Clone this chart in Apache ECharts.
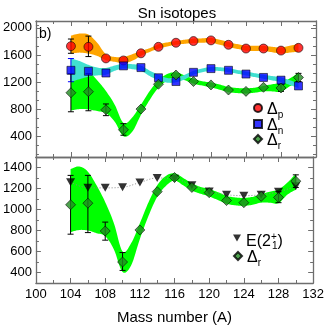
<!DOCTYPE html>
<html>
<head>
<meta charset="utf-8">
<script src="https://cdn.jsdelivr.net/npm/echarts@6/dist/echarts.min.js"></script>
<style>
  html, body { margin: 0; padding: 0; background: #fff; }
  #chart { width: 327px; height: 327px; }
</style>
</head>
<body>
<div id="chart"></div>
<script>
  // isotopes (mass number A)
  const massNumbers = [104, 106, 108, 110, 112, 114, 116, 118, 120, 122, 124, 126, 128, 130];
  const deltaP = [1730, 1720, 1550, 1520, 1625, 1720, 1780, 1805, 1815, 1750, 1695, 1695, 1665, 1705];
  const deltaN = [1375, 1360, 1335, 1440, 1415, 1265, 1210, 1345, 1400, 1375, 1320, 1270, 1230, 1145];
  const deltaR = [1045, 1060, 795, 500, 805, 1170, 1305, 1210, 1160, 1085, 1065, 1125, 1115, 1270];
  const e21 = [1260, 1207, 1206, 1212, 1257, 1300, 1294, 1230, 1171, 1141, 1132, 1141, 1169, 1221];

  // error bars [A, low, high]
  const deltaPErr = [[104, 1625, 1835], [106, 1577, 1878]];
  const deltaNErr = [[104, 1207, 1548]];
  const deltaRErr = [[104, 765, 1325], [106, 780, 1325], [108, 708, 880], [110, 420, 590], [128, 1065, 1170], [130, 1210, 1330]];

  // shaded bands at every A
  const bandA = [104, 105, 106, 107, 108, 109, 110, 111, 112, 113, 114, 115, 116, 117, 118, 119, 120, 121, 122, 123, 124, 125, 126, 127, 128, 129, 130];
  const orangeHi = [1885, 1915, 1900, 1780, 1610, 1572, 1572, 1611, 1660, 1700, 1757, 1785, 1805, 1825, 1840, 1845, 1850, 1825, 1790, 1760, 1737, 1735, 1733, 1720, 1710, 1735, 1767];
  const orangeLo = [1620, 1635, 1620, 1587, 1523, 1500, 1480, 1514, 1587, 1645, 1694, 1725, 1750, 1765, 1776, 1780, 1781, 1750, 1718, 1690, 1664, 1660, 1660, 1640, 1621, 1635, 1650];
  const cyanHi = [1550, 1510, 1455, 1415, 1410, 1445, 1470, 1465, 1445, 1370, 1310, 1262, 1262, 1310, 1368, 1400, 1425, 1420, 1405, 1380, 1358, 1333, 1309, 1290, 1271, 1230, 1183];
  const cyanLo = [1205, 1245, 1280, 1300, 1310, 1368, 1402, 1392, 1368, 1290, 1232, 1193, 1198, 1241, 1309, 1345, 1368, 1365, 1348, 1325, 1300, 1275, 1251, 1225, 1203, 1160, 1115];
  const greenHi = [1385, 1410, 1360, 1230, 1070, 870, 600, 680, 870, 1070, 1230, 1320, 1345, 1300, 1250, 1215, 1195, 1165, 1130, 1115, 1110, 1120, 1145, 1170, 1190, 1255, 1340];
  const greenLo = [785, 805, 800, 775, 745, 620, 405, 470, 720, 940, 1120, 1225, 1275, 1230, 1180, 1150, 1125, 1090, 1055, 1040, 1035, 1045, 1065, 1065, 1060, 1140, 1190];

  const topMajor = [400, 800, 1200, 1600, 2000];
  const topMinor = [133.3, 266.7, 533.3, 666.7, 933.3, 1066.7, 1333.3, 1466.7, 1733.3, 1866.7, 2033.3];
  const botMajor = [400, 600, 800, 1000, 1200, 1400];
  const botMinor = [300, 500, 700, 900, 1100, 1300, 1500];

  const FONT = 'Liberation Sans';
  const FRAME = '#6e6e6e';

  const pts = (xs, ys) => xs.map((x, i) => [x, ys[i]]);

  // catmull-rom through pixel points, sampled into a polyline
  function spline(p) {
    const out = [p[0]];
    for (let i = 0; i < p.length - 1; i++) {
      const p0 = p[Math.max(i - 1, 0)], p1 = p[i], p2 = p[i + 1], p3 = p[Math.min(i + 2, p.length - 1)];
      const c1 = [p1[0] + (p2[0] - p0[0]) / 6, p1[1] + (p2[1] - p0[1]) / 6];
      const c2 = [p2[0] - (p3[0] - p1[0]) / 6, p2[1] - (p3[1] - p1[1]) / 6];
      for (let k = 1; k <= 8; k++) {
        const t = k / 8, u = 1 - t;
        out.push([
          u * u * u * p1[0] + 3 * u * u * t * c1[0] + 3 * u * t * t * c2[0] + t * t * t * p2[0],
          u * u * u * p1[1] + 3 * u * u * t * c1[1] + 3 * u * t * t * c2[1] + t * t * t * p2[1]
        ]);
      }
    }
    return out;
  }

  function band(lo, hi, color, gi, z) {
    return {
      type: 'custom', xAxisIndex: gi * 2, yAxisIndex: gi * 4, z: z, silent: true,
      data: bandA.map((a, i) => [a, lo[i], hi[i]]),
      encode: { x: 0, y: [1, 2] },
      renderItem(params, api) {
        if (params.dataIndex !== 0) return null;
        const top = spline(bandA.map((a, i) => api.coord([a, hi[i]])));
        const bot = spline(bandA.map((a, i) => api.coord([a, lo[i]]))).reverse();
        return { type: 'polygon', shape: { points: top.concat(bot) }, style: { fill: color } };
      }
    };
  }

  function errBars(rows, color, gi) {
    return {
      type: 'custom', xAxisIndex: gi * 2, yAxisIndex: gi * 4, z: 4, silent: true,
      data: rows, encode: { x: 0, y: [1, 2] },
      renderItem(params, api) {
        const lo = api.coord([api.value(0), api.value(1)]);
        const hi = api.coord([api.value(0), api.value(2)]);
        const st = { stroke: color, lineWidth: 1 };
        return {
          type: 'group', children: [
            { type: 'line', shape: { x1: lo[0], y1: lo[1], x2: hi[0], y2: hi[1] }, style: st },
            { type: 'line', shape: { x1: lo[0] - 3, y1: lo[1], x2: lo[0] + 3, y2: lo[1] }, style: st },
            { type: 'line', shape: { x1: hi[0] - 3, y1: hi[1], x2: hi[0] + 3, y2: hi[1] }, style: st }
          ]
        };
      }
    };
  }

  function xAx(gi, pos, labels) {
    return {
      type: 'value', gridIndex: gi, position: pos, min: 100, max: 132, interval: 4,
      axisLine: { show: true, lineStyle: { color: FRAME, width: 1.3 } },
      axisTick: { show: true, inside: true, length: 5, lineStyle: { color: FRAME } },
      minorTick: { show: true, splitNumber: 2, length: 3, lineStyle: { color: FRAME } },
      splitLine: { show: false },
      axisLabel: { show: labels, margin: 5, color: '#000', fontSize: 13, fontFamily: FONT },
      name: labels ? 'Mass number (A)' : '',
      nameLocation: 'middle', nameGap: 27,
      nameTextStyle: { color: '#000', fontSize: 15, fontFamily: FONT }
    };
  }

  function yAxes(gi, min, max, major, minor) {
    const base = { type: 'value', gridIndex: gi, min: min, max: max, splitLine: { show: false } };
    const line = { show: true, lineStyle: { color: FRAME, width: 1.3 } };
    return [
      Object.assign({}, base, {
        position: 'left', axisLine: line,
        axisTick: { show: true, inside: true, length: 5, customValues: major, lineStyle: { color: FRAME } },
        axisLabel: { customValues: major, margin: 4, color: '#000', fontSize: 13, fontFamily: FONT, formatter: v => String(v) }
      }),
      Object.assign({}, base, {
        position: 'left', axisLine: { show: false },
        axisTick: { show: true, inside: true, length: 3, customValues: minor, lineStyle: { color: FRAME } },
        axisLabel: { show: false }
      }),
      Object.assign({}, base, {
        position: 'right', axisLine: line,
        axisTick: { show: true, inside: true, length: 5, customValues: major, lineStyle: { color: FRAME } },
        axisLabel: { show: false }
      }),
      Object.assign({}, base, {
        position: 'right', axisLine: { show: false },
        axisTick: { show: true, inside: true, length: 3, customValues: minor, lineStyle: { color: FRAME } },
        axisLabel: { show: false }
      })
    ];
  }

  const mark = { borderColor: '#000', borderWidth: 0.7 };
  // rich text pieces for the Δ subscripts and E(2+1)
  const subText = {
    d: { fontSize: 16, lineHeight: 12, verticalAlign: 'top', fontFamily: FONT, color: '#000' },
    s: { fontSize: 10, lineHeight: 9, padding: [8, 0, 0, 0], verticalAlign: 'top', fontFamily: FONT, color: '#000' },
    n: { fontSize: 16, lineHeight: 12, verticalAlign: 'top', padding: [2, 0, 0, 0], fontFamily: FONT, color: '#000' },
    up: { fontSize: 10, lineHeight: 9, width: 1, verticalAlign: 'top', fontFamily: FONT, color: '#000' },
    lo: { fontSize: 10, lineHeight: 9, padding: [9, 0, 0, 0], verticalAlign: 'top', fontFamily: FONT, color: '#000' }
  };
  const labelOf = {
    'Δp': '{d|Δ}{s|p}', 'Δn': '{d|Δ}{s|n}', 'Δr': '{d|Δ}{s|r}', 'E2': '{n|E(2}{up|+}{lo|1}{n|)}'
  };

  // one legend per row so each row sits where the reference puts it
  function legendRow(item, left, top) {
    return {
      data: [item], orient: 'vertical', left: left, top: top, padding: 0,
      itemWidth: 8, itemHeight: 8, selectedMode: false,
      formatter: n => labelOf[n],
      textStyle: { rich: subText }
    };
  }

  const chart = echarts.init(document.getElementById('chart'));
  chart.setOption({
    animation: false,
    backgroundColor: '#fff',
    title: {
      text: 'Sn isotopes', left: 172, top: 1, textAlign: 'center',
      textStyle: { fontSize: 15, fontWeight: 'normal', color: '#000', fontFamily: FONT }
    },
    graphic: [{
      type: 'text', left: 39, top: 27,
      style: { text: 'b)', fontSize: 14, fontFamily: FONT, fill: '#000' }
    }],
    legend: [
      legendRow({ name: 'Δp', icon: 'circle' }, 253, 102),
      legendRow({ name: 'Δn', icon: 'rect' }, 253, 118),
      legendRow({ name: 'Δr', icon: 'diamond' }, 253, 133),
      legendRow({ name: 'E2', icon: 'path://M0,0 L10,0 L5,9 Z' }, 233, 232),
      legendRow({ name: 'Δr', icon: 'diamond' }, 233, 250)
    ],
    grid: [
      { left: 30, right: 11, top: 21, height: 136 },
      { left: 30, right: 11, top: 157, height: 126 }
    ],
    xAxis: [xAx(0, 'bottom', false), xAx(0, 'top', false), xAx(1, 'bottom', true), xAx(1, 'top', false)],
    yAxis: yAxes(0, 100, 2100, topMajor, topMinor).concat(yAxes(1, 300, 1500, botMajor, botMinor)),
    series: [
      band(greenLo, greenHi, '#00ff00', 0, 1),
      band(cyanLo, cyanHi, '#40e0d0', 0, 1),
      band(orangeLo, orangeHi, '#ffa500', 0, 1),
      errBars(deltaPErr, '#000', 0),
      errBars(deltaNErr, '#0000ff', 0),
      errBars(deltaRErr, '#000', 0),
      { type: 'scatter', name: 'Δp', xAxisIndex: 0, yAxisIndex: 0, z: 5, data: pts(massNumbers, deltaP),
        symbol: 'circle', symbolSize: 9, itemStyle: Object.assign({ color: '#ff0000' }, mark) },
      { type: 'scatter', name: 'Δn', xAxisIndex: 0, yAxisIndex: 0, z: 5, data: pts(massNumbers, deltaN),
        symbol: 'rect', symbolSize: 8, itemStyle: Object.assign({ color: '#0000ff' }, mark) },
      { type: 'scatter', name: 'Δr', xAxisIndex: 0, yAxisIndex: 0, z: 5, data: pts(massNumbers, deltaR),
        symbol: 'diamond', symbolSize: 10, itemStyle: Object.assign({ color: '#228b22' }, mark) },

      band(greenLo, greenHi, '#00ff00', 1, 1),
      errBars(deltaRErr, '#000', 1),
      { type: 'line', name: 'E2line', xAxisIndex: 2, yAxisIndex: 4, z: 3, data: pts(massNumbers, e21),
        smooth: 0.4, symbol: 'none', lineStyle: { color: '#888', width: 1, type: [1, 2] } },
      { type: 'scatter', name: 'E2', xAxisIndex: 2, yAxisIndex: 4, z: 5, data: pts(massNumbers, e21),
        symbol: 'triangle', symbolRotate: 180, symbolSize: [9, 8], itemStyle: { color: '#000' } },
      { type: 'scatter', name: 'Δr', xAxisIndex: 2, yAxisIndex: 4, z: 5, data: pts(massNumbers, deltaR),
        symbol: 'diamond', symbolSize: 10, itemStyle: Object.assign({ color: '#228b22' }, mark) }
    ]
  });
</script>
</body>
</html>
